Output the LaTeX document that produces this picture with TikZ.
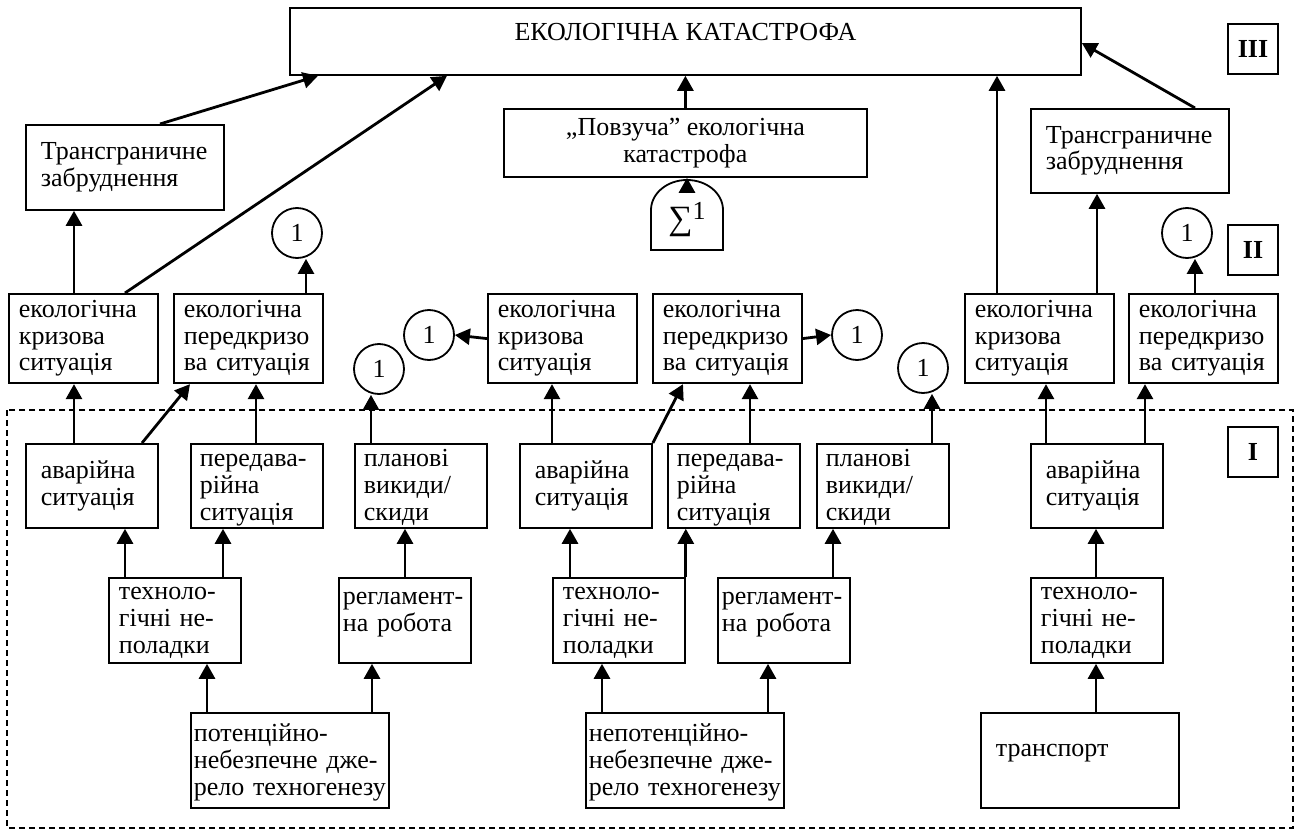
\documentclass[tikz,border=0pt]{standalone}
\usepackage{fontspec}
\setmainfont{Liberation Serif}
\usetikzlibrary{arrows.meta,calc}
\begin{document}
\begin{tikzpicture}[x=0.5pt,y=-0.5pt,
  every node/.style={font=\fontsize{13pt}{13.3pt}\selectfont},
  bx/.style={draw,line width=0.9pt,anchor=north west,align=left},
  lvtwo/.style={bx,minimum width=74.5pt,minimum height=41.5pt,text width=64.5pt,inner xsep=5pt},
  lvone/.style={bx,minimum width=66pt,minimum height=42pt,text width=57pt,inner xsep=4.5pt,inner ysep=0pt,text height=11.5pt,text depth=30.5pt},
  avar/.style={bx,minimum width=66pt,minimum height=42pt,text width=51pt,inner xsep=7.5pt},
  tech/.style={bx,minimum width=66pt,minimum height=42.5pt,text width=56pt,inner xsep=5pt,inner ysep=0pt,text height=11pt,text depth=31.5pt},
  regl/.style={bx,minimum width=66pt,minimum height=42.5pt,text width=62pt,inner xsep=2pt,inner ysep=0pt,text height=13.5pt,text depth=29pt},
  srcbox/.style={bx,minimum width=99pt,minimum height=47.5pt,text width=96pt,inner xsep=1.5pt,inner ysep=0pt,text height=14.5pt,text depth=33pt},
  trans/.style={bx,minimum width=99pt,minimum height=42.5pt,text width=84pt,inner xsep=7.5pt},
  crc/.style={draw,circle,line width=0.9pt,minimum size=25pt,inner sep=0pt},
  lvl/.style={draw,line width=0.9pt,minimum size=25pt,inner sep=0pt,font=\fontsize{13pt}{13.3pt}\selectfont\bfseries},
  arr/.style={line width=1.4pt,-{Triangle[length=7.5pt,width=8pt]}},
  dashframe/.style={line width=0.8pt,dash pattern=on 3.2pt off 1.8pt}
]
\useasboundingbox (0,0) rectangle (1297,830);

% level III
\node[bx,minimum width=395.5pt,minimum height=33.5pt,inner ysep=0pt,text height=16.5pt,text depth=17pt,align=center] (T) at (289,7) {ЕКОЛОГІЧНА КАТАСТРОФА};
\node[trans] (TrL) at (25,124) {Трансграничне\\забруднення};
\node[trans,minimum height=42pt] (TrR) at (1030,108) {Трансграничне\\забруднення};
\node[bx,align=center,minimum width=181.5pt,minimum height=34pt] (Pov) at (503,108) {„Повзуча”~екологічна\\катастрофа};
\node (sig) at (687,220) {{\fontsize{17pt}{17pt}\selectfont ∑}\raisebox{5pt}{1}};
\draw[line width=0.9pt] ($(sig)+(-36,30)$) -- ($(sig)+(-36,-10)$) arc[start angle=180,end angle=0,x radius=18pt,y radius=15pt] -- ($(sig)+(36,30)$) -- cycle;

% circles
\node[crc] (c1) at (297,233) {1};
\node[crc] (c2) at (379,369) {1};
\node[crc] (c3) at (429,335) {1};
\node[crc] (c4) at (857,335) {1};
\node[crc] (c5) at (923,368) {1};
\node[crc] (c6) at (1187,233) {1};

% level labels
\node[lvl] (L3) at (1253,49) {III};
\node[lvl] (L2) at (1253,250) {II};
\node[lvl] (L1) at (1253,452) {I};

% level II
\node[lvtwo] (k1) at (8,293) {екологічна\\кризова\\ситуація};
\node[lvtwo] (p1) at (173,293) {екологічна\\передкризо\\ва~ситуація};
\node[lvtwo] (k2) at (487,293) {екологічна\\кризова\\ситуація};
\node[lvtwo] (p2) at (652,293) {екологічна\\передкризо\\ва~ситуація};
\node[lvtwo] (k3) at (964,293) {екологічна\\кризова\\ситуація};
\node[lvtwo] (p3) at (1128,293) {екологічна\\передкризо\\ва~ситуація};

% level I
\node[avar] (a1) at (25,443) {аварійна\\ситуація};
\node[lvone] (pa1) at (190,443) {передава-\\рійна\\ситуація};
\node[lvone] (pl1) at (354,443) {планові\\викиди/\\скиди};
\node[avar] (a2) at (519,443) {аварійна\\ситуація};
\node[lvone] (pa2) at (667,443) {передава-\\рійна\\ситуація};
\node[lvone] (pl2) at (816,443) {планові\\викиди/\\скиди};
\node[avar] (a3) at (1030,443) {аварійна\\ситуація};

\node[tech] (t1) at (108,577) {техноло-\\гічні~не-\\поладки};
\node[regl] (r1) at (338,577) {регламент-\\на~робота};
\node[tech] (t2) at (552,577) {техноло-\\гічні~не-\\поладки};
\node[regl] (r2) at (717,577) {регламент-\\на~робота};
\node[tech] (t3) at (1030,577) {техноло-\\гічні~не-\\поладки};

\node[srcbox] (s1) at (190,712) {потенційно-\\небезпечне~дже-\\рело~техногенезу};
\node[srcbox] (s2) at (585,712) {непотенційно-\\небезпечне~дже-\\рело~техногенезу};
\node[srcbox,text width=84pt,inner xsep=7.5pt,text height=22pt,text depth=25.5pt] (tr) at (980,712) {транспорт};

\draw[dashframe] (7,410) rectangle (1293,828);

% connectors
\draw[arr] (TrL.north -| 160,0) -- (T.south -| 318,0);
\draw[arr] (k1.north -| 125,0) -- (T.south -| 447,0);
\draw[arr] (Pov.north) -- (T.south -| Pov.north);
\draw[arr] (k3.north -| 997,0) -- (T.south -| 997,0);
\draw[arr] (TrR.north -| 1195,0) -- (T.east |- 0,43);
\draw[arr] ($(sig)+(0,-27)$) -- (Pov.south -| sig);
\draw[arr] (k1.north -| 74,0) -- (TrL.south -| 74,0);
\draw[arr] (p1.north -| 306,0) -- (c1.south -| 306,0);
\draw[arr] (k2.west) -- (c3.east);
\draw[arr] (p2.east) -- (c4.west);
\draw[arr] (pl1.north -| 371,0) -- (c2.south -| 371,0);
\draw[arr] (pl2.north -| 932,0) -- (c5.south -| 932,0);
\draw[arr] (k3.north -| 1097,0) -- (TrR.south -| 1097,0);
\draw[arr] (p3.north -| 1195,0) -- (c6.south -| 1195,0);
\draw[arr] (a1.north -| 74,0) -- (k1.south -| 74,0);
\draw[arr] (a1.north -| 142,0) -- (p1.south -| 190,0);
\draw[arr] (pa1.north -| 256,0) -- (p1.south -| 256,0);
\draw[arr] (a2.north -| 552,0) -- (k2.south -| 552,0);
\draw[arr] (a2.north east) -- (p2.south -| 683,0);
\draw[arr] (pa2.north -| 750,0) -- (p2.south -| 750,0);
\draw[arr] (a3.north -| 1046,0) -- (k3.south -| 1046,0);
\draw[arr] (a3.north -| 1145,0) -- (p3.south -| 1145,0);
\draw[arr] (t1.north -| 125,0) -- (a1.south -| 125,0);
\draw[arr] (t1.north -| 223,0) -- (pa1.south -| 223,0);
\draw[arr] (r1.north -| 405,0) -- (pl1.south -| 405,0);
\draw[arr] (t2.north -| 570,0) -- (a2.south -| 570,0);
\draw[arr] (t2.north east) -- (pa2.south -| t2.north east);
\draw[arr] (r2.north -| 833,0) -- (pl2.south -| 833,0);
\draw[arr] (t3.north -| 1096,0) -- (a3.south -| 1096,0);
\draw[arr] (s1.north -| 207,0) -- (t1.south -| 207,0);
\draw[arr] (s1.north -| 372,0) -- (r1.south -| 372,0);
\draw[arr] (s2.north -| 602,0) -- (t2.south -| 602,0);
\draw[arr] (s2.north -| 768,0) -- (r2.south -| 768,0);
\draw[arr] (tr.north -| 1096,0) -- (t3.south -| 1096,0);
\end{tikzpicture}
\end{document}
